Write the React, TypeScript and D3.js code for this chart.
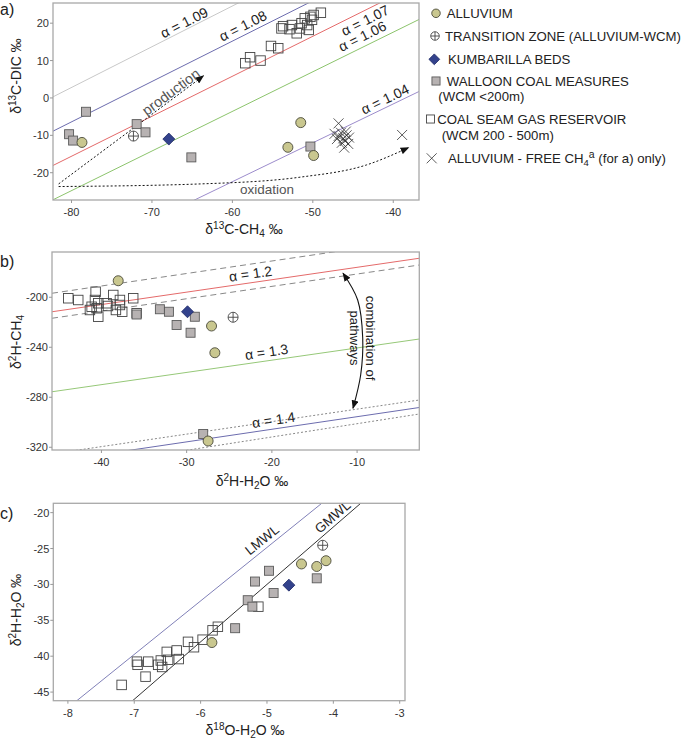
import React from "react";
import * as d3 from "d3";

const FONT = "'Liberation Sans', Arial, Helvetica, sans-serif";

// ---------------- Panel a : δ13C-CH4 vs δ13C-DIC ----------------
const aXTicks = [-80, -70, -60, -50, -40];
const aYTicks = [20, 10, 0, -10, -20];
const aAlphas = [1.09, 1.08, 1.07, 1.06, 1.04];
const aAlphaLabelX = [-65.6, -58.2, -44.0, -43.3, -40.6];
const aAlphaLabelOff = [7, 9, -9, 10, 8];
const aAlphaColors = ["#c8c8c8", "#6c6cae", "#e46a6a", "#8cc46c", "#9c8ccc"];

const aAlluvium = [[-78.7, -11.9], [-51.5, -6.6], [-53.1, -13.2], [-49.9, -15.4]];
const aTransition = [[-72.3, -10.2]];
const aKumbarilla = [[-67.9, -11.0]];
const aWalloon = [[-78.2, -3.7], [-80.3, -9.7], [-79.8, -11.4], [-71.9, -7.0], [-70.8, -9.2], [-65.1, -15.9], [-50.3, -13.0]];
const aCSG = [
  [-58.4, 9.3], [-57.8, 10.9], [-56.5, 10.0], [-55.2, 13.9], [-54.3, 13.3], [-53.9, 18.6], [-53.7, 19.2],
  [-52.6, 19.5], [-52.0, 17.3], [-51.6, 18.6], [-51.4, 20.0], [-51.0, 21.3], [-50.7, 19.5], [-50.3, 21.7],
  [-50.1, 20.9], [-50.5, 18.2], [-49.9, 22.2], [-49.0, 22.8], [-52.9, 18.4],
];
const aFreeCH4 = [
  [-46.8, -6.8], [-47.3, -9.6], [-46.8, -10.2], [-46.5, -9.3], [-46.2, -10.8], [-46.0, -11.5], [-45.8, -10.0],
  [-45.6, -12.3], [-46.4, -12.0], [-47.0, -11.0], [-45.5, -10.6], [-46.1, -13.3], [-45.9, -9.0], [-38.9, -9.9],
];
const aProduction = [[-81.6, -23.0], [-63.6, 5.9]];
const aOxidation = [[-81.6, -23.7], [-64.0, -23.0], [-51.6, -21.2], [-43.3, -17.9], [-38.1, -13.3]];

// ---------------- Panel b : δ2H-H2O vs δ2H-CH4 ----------------
const bXTicks = [-40, -30, -20, -10];
const bYTicks = [-200, -240, -280, -320];
// lines given as [x1, y1, x2, y2]
const bLineUpperDash = [-45.8, -196.8, -2.7, -153.7];
const bLineAlpha12 = [-45.8, -211.6, -2.7, -168.8];
const bLineLowerDash = [-45.8, -216.8, -2.7, -174.2];
const bLineAlpha13 = [-45.8, -275.6, -2.7, -233.4];
const bLineUpperDot = [-45.8, -325.3, -2.7, -282.2];
const bLineAlpha14 = [-45.8, -331.6, -2.7, -288.2];
const bLineLowerDot = [-45.8, -339.2, -2.7, -293.4];
const bAlphaLabels = ["α = 1.2", "α = 1.3", "α = 1.4"];
const bAlphaLabelX = [-22.35, -20.48, -19.66];

const bAlluvium = [[-38.03, -186.8], [-27.08, -223.0], [-26.69, -244.4], [-27.48, -315.0]];
const bTransition = [[-24.55, -216.0]];
const bKumbarilla = [[-29.9, -211.6]];
const bWalloon = [[-35.87, -213.8], [-33.14, -209.6], [-32.08, -211.6], [-29.04, -215.6], [-31.18, -222.2], [-29.54, -228.4], [-28.06, -309.4]];
const bCSG = [
  [-43.89, -200.8], [-42.72, -202.2], [-40.68, -195.6], [-40.76, -202.2], [-40.37, -204.8], [-41.15, -207.6],
  [-41.35, -210.2], [-40.56, -208.8], [-40.37, -215.6], [-39.39, -204.8], [-39.23, -207.0], [-38.61, -198.2],
  [-38.3, -210.2], [-37.83, -202.2], [-37.83, -206.2], [-37.56, -211.6], [-36.27, -200.8], [-35.87, -212.8],
];
const bCombination = [[-11.65, -180.8], [-9.93, -202.2], [-9.34, -232.6], [-9.58, -262.2], [-10.48, -288.8]];

// ---------------- Panel c : δ18O-H2O vs δ2H-H2O ----------------
const cXTicks = [-8, -7, -6, -5, -4, -3];
const cYTicks = [-20, -25, -30, -35, -40, -45];
const cLMWL = { slope: 7.45, intercept: 12.4 };
const cGMWL = { slope: 8, intercept: 10 };

const cAlluvium = [[-5.83, -38.1], [-4.48, -27.15], [-4.25, -27.5], [-4.11, -26.7]];
const cTransition = [[-4.16, -24.55]];
const cKumbarilla = [[-4.67, -30.1]];
const cWalloon = [[-5.29, -32.2], [-5.22, -33.1], [-5.18, -29.6], [-4.97, -28.1], [-4.9, -31.2], [-5.48, -36.1], [-4.25, -29.15]];
const cCSG = [
  [-7.19, -44.0], [-6.83, -42.85], [-6.96, -40.76], [-6.95, -41.2], [-6.79, -40.76], [-6.64, -41.2],
  [-6.6, -40.6], [-6.58, -41.5], [-6.49, -40.5], [-6.51, -39.4], [-6.36, -39.2], [-6.33, -40.4],
  [-6.19, -38.0], [-6.1, -38.75], [-5.97, -37.7], [-5.82, -36.4], [-5.74, -35.9], [-5.13, -33.1],
];

// ---------------- scales ----------------
const xa = d3.scaleLinear().domain([-82.3, -36.8]).range([53, 419]);
const ya = d3.scaleLinear().domain([-27.3, 25.4]).range([200, 3]);
const xb = d3.scaleLinear().domain([-45.8, -2.7]).range([52, 419.3]);
const yb = d3.scaleLinear().domain([-322.2, -163.8]).range([450, 252]);
const xc = d3.scaleLinear().domain([-8.22, -2.92]).range([53.3, 405]);
const yc = d3.scaleLinear().domain([-46.2, -18.7]).range([700.7, 503.3]);

type Pt = number[];

function Marker({ t, x, y, k = 1 }: { t: string; x: number; y: number; k?: number }) {
  switch (t) {
    case "alluvium":
      return <circle cx={x} cy={y} r={5 * k} fill="#c9c78f" stroke="#4a4a3a" strokeWidth={0.9} />;
    case "transition":
      return (
        <g stroke="#444" strokeWidth={0.9} fill="none">
          <circle cx={x} cy={y} r={5 * k} fill="#fff" />
          <line x1={x - 5 * k} x2={x + 5 * k} y1={y} y2={y} />
          <line x1={x} x2={x} y1={y - 5 * k} y2={y + 5 * k} />
        </g>
      );
    case "kumbarilla": {
      const s = 6 * k;
      return <path d={`M${x},${y - s}L${x + s},${y}L${x},${y + s}L${x - s},${y}Z`} fill="#33428c" stroke="#1e2a66" strokeWidth={0.8} />;
    }
    case "walloon": {
      const s = 9 * k;
      return <rect x={x - s / 2} y={y - s / 2} width={s} height={s} fill="#b7b2b2" stroke="#5a5a5a" strokeWidth={0.9} />;
    }
    case "csg": {
      const s = 9.5 * k;
      return <rect x={x - s / 2} y={y - s / 2} width={s} height={s} fill="none" stroke="#444" strokeWidth={0.9} />;
    }
    case "free": {
      const s = 5 * k;
      return (
        <g stroke="#333" strokeWidth={0.8}>
          <line x1={x - s} x2={x + s} y1={y - s} y2={y + s} />
          <line x1={x - s} x2={x + s} y1={y + s} y2={y - s} />
        </g>
      );
    }
  }
  return null;
}

function Points({ data, t, xs, ys }: { data: Pt[]; t: string; xs: any; ys: any }) {
  return (
    <g>
      {data.map((d, i) => (
        <Marker key={i} t={t} x={xs(d[0])} y={ys(d[1])} />
      ))}
    </g>
  );
}

function Axes({ xs, ys, xt, yt }: { xs: any; ys: any; xt: number[]; yt: number[] }) {
  const [x0, x1] = xs.range();
  const [y0, y1] = ys.range(); // y0 bottom, y1 top
  return (
    <g>
      <rect x={x0} y={y1} width={x1 - x0} height={y0 - y1} fill="none" stroke="#a8a8a8" strokeWidth={1.3} />
      {xt.map((v) => (
        <g key={"x" + v}>
          <line x1={xs(v)} x2={xs(v)} y1={y0} y2={y0 + 3} stroke="#999" />
          <text x={xs(v)} y={y0 + 16} textAnchor="middle" fontSize={11} fill="#333">
            {String(v)}
          </text>
        </g>
      ))}
      {yt.map((v) => (
        <g key={"y" + v}>
          <line x1={x0 - 3} x2={x0} y1={ys(v)} y2={ys(v)} stroke="#999" />
          <text x={x0 - 4} y={ys(v) + 4} textAnchor="end" fontSize={11} fill="#333">
            {String(v)}
          </text>
        </g>
      ))}
    </g>
  );
}

function labelOnLine(xs: any, ys: any, fn: (x: number) => number, xv: number, off: number) {
  const px = xs(xv), py = ys(fn(xv));
  const px2 = xs(xv + 0.1), py2 = ys(fn(xv + 0.1));
  const th = Math.atan2(py2 - py, px2 - px);
  return { x: px + off * Math.sin(th), y: py - off * Math.cos(th), deg: (th * 180) / Math.PI };
}

function segFn(s: number[]) {
  return (x: number) => s[1] + ((x - s[0]) * (s[3] - s[1])) / (s[2] - s[0]);
}

function PanelA() {
  const [d0, d1] = xa.domain();
  const prodLine = d3.line<Pt>().x((d) => xa(d[0])).y((d) => ya(d[1]));
  const oxLine = d3.line<Pt>().x((d) => xa(d[0])).y((d) => ya(d[1])).curve(d3.curveMonotoneX);
  const prodAngle = (Math.atan2(ya(aProduction[1][1]) - ya(aProduction[0][1]), xa(aProduction[1][0]) - xa(aProduction[0][0])) * 180) / Math.PI;
  return (
    <g>
      <g clipPath="url(#clipA)">
        {aAlphas.map((a, i) => (
          <line key={a} x1={xa(d0)} y1={ya(a * (d0 + 1000) - 1000)} x2={xa(d1)} y2={ya(a * (d1 + 1000) - 1000)} stroke={aAlphaColors[i]} strokeWidth={1} />
        ))}
        <path d={prodLine(aProduction) || ""} fill="none" stroke="#111" strokeWidth={1} strokeDasharray="2,2" markerEnd="url(#arrow)" />
        <path d={oxLine(aOxidation) || ""} fill="none" stroke="#111" strokeWidth={1} strokeDasharray="2,2" markerEnd="url(#arrow)" />
      </g>
      {aAlphas.map((a, i) => {
        const p = labelOnLine(xa, ya, (x) => a * (x + 1000) - 1000, aAlphaLabelX[i], aAlphaLabelOff[i]);
        return (
          <text key={"l" + a} transform={`translate(${p.x},${p.y}) rotate(${p.deg})`} textAnchor="middle" dominantBaseline="central" fontSize={14} fill="#222">
            {`α = ${a.toFixed(2)}`}
          </text>
        );
      })}
      <text transform={`translate(171,92) rotate(${prodAngle})`} textAnchor="middle" dominantBaseline="central" fontSize={14.5} fill="#555">
        production
      </text>
      <text x={267} y={189} textAnchor="middle" dominantBaseline="central" fontSize={13.5} fill="#555">
        oxidation
      </text>
      <Axes xs={xa} ys={ya} xt={aXTicks} yt={aYTicks} />
      <Points data={aWalloon} t="walloon" xs={xa} ys={ya} />
      <Points data={aAlluvium} t="alluvium" xs={xa} ys={ya} />
      <Points data={aTransition} t="transition" xs={xa} ys={ya} />
      <Points data={aKumbarilla} t="kumbarilla" xs={xa} ys={ya} />
      <Points data={aCSG} t="csg" xs={xa} ys={ya} />
      <Points data={aFreeCH4} t="free" xs={xa} ys={ya} />
      <text x={0} y={15} fontSize={16} fill="#222">a)</text>
      <text x={244} y={234} textAnchor="middle" fontSize={14} fill="#222">
        δ<tspan dy={-5} fontSize={10}>13</tspan>
        <tspan dy={5}>C-CH</tspan>
        <tspan dy={3} fontSize={10}>4</tspan>
        <tspan dy={-3}> ‰</tspan>
      </text>
      <text transform="translate(21,76) rotate(-90)" textAnchor="middle" fontSize={14} fill="#222">
        δ<tspan dy={-5} fontSize={10}>13</tspan>
        <tspan dy={5}>C-DIC ‰</tspan>
      </text>
    </g>
  );
}

function PanelB() {
  const seg = (s: number[], stroke: string, dash?: string) => (
    <line x1={xb(s[0])} y1={yb(s[1])} x2={xb(s[2])} y2={yb(s[3])} stroke={stroke} strokeWidth={1} strokeDasharray={dash} />
  );
  const alphaSegs = [bLineAlpha12, bLineAlpha13, bLineAlpha14];
  const arc = d3.line<Pt>().x((d) => xb(d[0])).y((d) => yb(d[1])).curve(d3.curveCatmullRom);
  return (
    <g>
      <g clipPath="url(#clipB)">
        {seg(bLineUpperDash, "#888", "6,4")}
        {seg(bLineAlpha12, "#e46a6a")}
        {seg(bLineLowerDash, "#888", "6,4")}
        {seg(bLineAlpha13, "#96c878")}
        {seg(bLineUpperDot, "#888", "2,2")}
        {seg(bLineAlpha14, "#6c6cae")}
        {seg(bLineLowerDot, "#888", "2,2")}
      </g>
      {alphaSegs.map((s, i) => {
        const p = labelOnLine(xb, yb, segFn(s), bAlphaLabelX[i], 9);
        return (
          <text key={i} transform={`translate(${p.x},${p.y}) rotate(${p.deg})`} textAnchor="middle" dominantBaseline="central" fontSize={14} fill="#222">
            {bAlphaLabels[i]}
          </text>
        );
      })}
      <path d={arc(bCombination) || ""} fill="none" stroke="#111" strokeWidth={1.1} markerEnd="url(#arrow)" markerStart="url(#arrowS)" />
      <text transform="translate(366,338) rotate(90)" textAnchor="middle" fontSize={13} fill="#222">combination of</text>
      <text transform="translate(350,338) rotate(90)" textAnchor="middle" fontSize={13} fill="#222">pathways</text>
      <Axes xs={xb} ys={yb} xt={bXTicks} yt={bYTicks} />
      <Points data={bCSG} t="csg" xs={xb} ys={yb} />
      <Points data={bWalloon} t="walloon" xs={xb} ys={yb} />
      <Points data={bAlluvium} t="alluvium" xs={xb} ys={yb} />
      <Points data={bTransition} t="transition" xs={xb} ys={yb} />
      <Points data={bKumbarilla} t="kumbarilla" xs={xb} ys={yb} />
      <text x={0} y={267} fontSize={16} fill="#222">b)</text>
      <text x={252} y={486} textAnchor="middle" fontSize={14} fill="#222">
        δ<tspan dy={-5} fontSize={10}>2</tspan>
        <tspan dy={5}>H-H</tspan>
        <tspan dy={3} fontSize={10}>2</tspan>
        <tspan dy={-3}>O ‰</tspan>
      </text>
      <text transform="translate(21,342) rotate(-90)" textAnchor="middle" fontSize={14} fill="#222">
        δ<tspan dy={-5} fontSize={10}>2</tspan>
        <tspan dy={5}>H-CH</tspan>
        <tspan dy={3} fontSize={10}>4</tspan>
      </text>
    </g>
  );
}

function PanelC() {
  const [d0, d1] = xc.domain();
  const wl = (l: { slope: number; intercept: number }, stroke: string) => (
    <line x1={xc(d0)} y1={yc(l.slope * d0 + l.intercept)} x2={xc(d1)} y2={yc(l.slope * d1 + l.intercept)} stroke={stroke} strokeWidth={1} />
  );
  const lm = labelOnLine(xc, yc, (x) => cLMWL.slope * x + cLMWL.intercept, -4.99, 9);
  const gm = labelOnLine(xc, yc, (x) => cGMWL.slope * x + cGMWL.intercept, -3.93, 8);
  return (
    <g>
      <g clipPath="url(#clipC)">
        {wl(cLMWL, "#8080b8")}
        {wl(cGMWL, "#333")}
      </g>
      <text transform={`translate(${lm.x},${lm.y}) rotate(${lm.deg})`} textAnchor="middle" dominantBaseline="central" fontSize={13.5} fill="#222">LMWL</text>
      <text transform={`translate(${gm.x},${gm.y}) rotate(${gm.deg})`} textAnchor="middle" dominantBaseline="central" fontSize={13.5} fill="#222">GMWL</text>
      <Axes xs={xc} ys={yc} xt={cXTicks} yt={cYTicks} />
      <Points data={cCSG} t="csg" xs={xc} ys={yc} />
      <Points data={cWalloon} t="walloon" xs={xc} ys={yc} />
      <Points data={cAlluvium} t="alluvium" xs={xc} ys={yc} />
      <Points data={cTransition} t="transition" xs={xc} ys={yc} />
      <Points data={cKumbarilla} t="kumbarilla" xs={xc} ys={yc} />
      <text x={0} y={519} fontSize={16} fill="#222">c)</text>
      <text x={245} y={735} textAnchor="middle" fontSize={14} fill="#222">
        δ<tspan dy={-5} fontSize={10}>18</tspan>
        <tspan dy={5}>O-H</tspan>
        <tspan dy={3} fontSize={10}>2</tspan>
        <tspan dy={-3}>O ‰</tspan>
      </text>
      <text transform="translate(21,610) rotate(-90)" textAnchor="middle" fontSize={14} fill="#222">
        δ<tspan dy={-5} fontSize={10}>2</tspan>
        <tspan dy={5}>H-H</tspan>
        <tspan dy={3} fontSize={10}>2</tspan>
        <tspan dy={-3}>O ‰</tspan>
      </text>
    </g>
  );
}

function Legend() {
  const fs = 13.2;
  const T = ({ x, y, children }: any) => (
    <text x={x} y={y + 4.7} fontSize={fs} fill="#222">{children}</text>
  );
  return (
    <g>
      <Marker t="alluvium" x={436} y={13.3} k={0.85} />
      <T x={446.7} y={13.3}>ALLUVIUM</T>
      <Marker t="transition" x={435} y={36} k={0.85} />
      <T x={445} y={36}>TRANSITION ZONE (ALLUVIUM-WCM)</T>
      <Marker t="kumbarilla" x={434.3} y={59.3} k={0.9} />
      <T x={448} y={59.3}>KUMBARILLA BEDS</T>
      <Marker t="walloon" x={436} y={81} k={0.9} />
      <T x={446.7} y={81}>WALLOON COAL MEASURES</T>
      <T x={438.3} y={96.7}>(WCM &lt;200m)</T>
      <Marker t="csg" x={430.5} y={119} k={0.85} />
      <T x={437.3} y={119}>COAL SEAM GAS RESERVOIR</T>
      <T x={441.7} y={135}>(WCM 200 - 500m)</T>
      <Marker t="free" x={431.7} y={158.3} k={1} />
      <text x={448} y={163} fontSize={fs} fill="#222">
        ALLUVIUM - FREE CH<tspan dy={3} fontSize={9.5}>4</tspan>
        <tspan dy={-8} fontSize={10.5}>a</tspan>
        <tspan dy={5}> (for a) only)</tspan>
      </text>
    </g>
  );
}

export default function App() {
  return (
    <svg width={685} height={739} style={{ position: "absolute", left: 0, top: 0, background: "#fff" }} fontFamily={FONT}>
      <defs>
        <clipPath id="clipA"><rect x={53} y={3} width={366} height={197} /></clipPath>
        <clipPath id="clipB"><rect x={52} y={252} width={367.3} height={198} /></clipPath>
        <clipPath id="clipC"><rect x={53.3} y={503.3} width={351.7} height={197.4} /></clipPath>
        <marker id="arrow" viewBox="0 0 10 8" refX={9} refY={4} markerWidth={9} markerHeight={7} markerUnits="userSpaceOnUse" orient="auto">
          <path d="M0,0L10,4L0,8Z" fill="#111" />
        </marker>
        <marker id="arrowS" viewBox="0 0 10 8" refX={9} refY={4} markerWidth={9} markerHeight={7} markerUnits="userSpaceOnUse" orient="auto-start-reverse">
          <path d="M0,0L10,4L0,8Z" fill="#111" />
        </marker>
      </defs>
      <rect width={685} height={739} fill="#fff" />
      <PanelA />
      <PanelB />
      <PanelC />
      <Legend />
    </svg>
  );
}
